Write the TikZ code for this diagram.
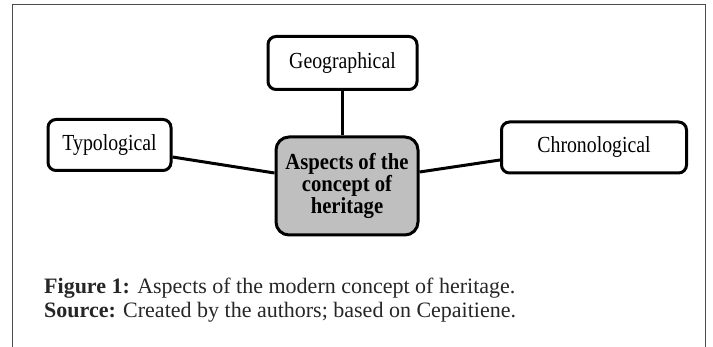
\documentclass[tikz,border=0pt]{standalone}
\usepackage{fontspec}
\setmainfont{Liberation Serif}
% narrow faces for the box labels
\newfontfamily\boxfont[FakeStretch=0.86]{Liberation Serif}
\newfontfamily\hubfont[FakeStretch=0.9]{Liberation Serif}

\begin{document}
\begin{tikzpicture}[x=1pt, y=-1pt,
  aspect/.style={draw=black, line width=3pt, rounded corners=8pt, fill=white,
    inner sep=0pt, align=center, text=black,
    font=\boxfont\fontsize{23}{26}\selectfont},
  hub/.style={aspect, fill=black!25, rounded corners=13pt,
    font=\hubfont\bfseries\fontsize{23}{22}\selectfont},
  link/.style={line width=3pt},
  frame/.style={draw=black!70, line width=1.2pt},
  captext/.style={inner sep=0pt, text=black!85,
    font=\fontsize{22}{24}\selectfont}]

  \useasboundingbox (0,0) rectangle (713,347);

  % open frame round the figure
  \draw[frame] (12.5,347) -- (12.5,4.7) -- (705.7,4.7) -- (705.7,347);

  % the four boxes
  \node[hub, minimum width=142pt, minimum height=98pt] (hub) at (347,186)
    {Aspects of the\\concept of\\heritage};
  \node[aspect, minimum width=149pt, minimum height=53pt] (geo) at (342.5,63)
    {Geographical};
  \node[aspect, minimum width=123pt, minimum height=51pt] (typ) at (109.5,145)
    {Typological};
  \node[aspect, minimum width=185pt, minimum height=51pt] (chr) at (594,147.5)
    {Chronological};

  % connectors
  \draw[link] (geo.south) -- (geo.south |- hub.north);
  \draw[link] ([yshift=-12pt]typ.east) -- ([yshift=13pt]hub.west);
  \draw[link] ([yshift=14pt]hub.east) -- ([yshift=-12.5pt]chr.west);

  % caption
  \node[captext, anchor=base west] (fig) at (44,293.3)
    {\textbf{Figure 1:} Aspects of the modern concept of heritage.};
  \node[captext, anchor=base west] (src) at (44,317.7)
    {\textbf{Source:} Created by the authors; based on Cepaitiene.};
\end{tikzpicture}
\end{document}
